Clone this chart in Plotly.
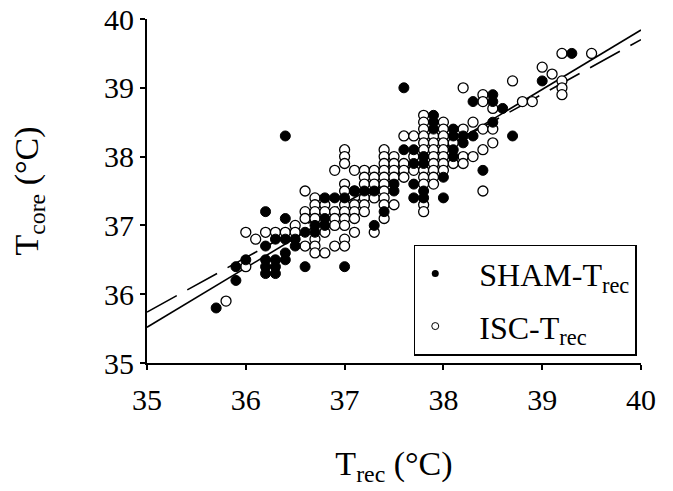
import plotly.graph_objects as go

# SHAM-Trec (filled) readings
sham_x = [35.7, 35.9, 35.9, 36.0, 36.2, 36.2, 36.2, 36.2, 36.2, 36.3, 36.3, 36.3, 36.3,
          36.4, 36.4, 36.4, 36.4, 36.4, 36.5, 36.5, 36.6, 36.6, 36.7, 36.7, 36.8, 36.8,
          36.8, 36.9, 37.0, 37.0, 37.1, 37.2, 37.3, 37.3, 37.4, 37.5, 37.5, 37.6, 37.6,
          37.7, 37.7, 37.7, 37.7, 37.8, 37.8, 37.8, 37.8, 37.9, 37.9, 37.9, 38.0, 38.0,
          38.1, 38.1, 38.1, 38.1, 38.2, 38.2, 38.3, 38.3, 38.4, 38.5, 38.5, 38.5, 38.6,
          38.7, 39.0, 39.3]
sham_y = [35.8, 36.2, 36.4, 36.5, 37.2, 36.7, 36.5, 36.4, 36.3, 36.8, 36.5, 36.4, 36.3,
          38.3, 37.1, 36.8, 36.6, 36.5, 36.8, 36.7, 36.9, 36.4, 37.0, 36.9, 37.4, 37.1,
          37.0, 37.4, 37.4, 36.4, 37.5, 37.5, 37.5, 37.0, 37.2, 37.6, 37.5, 39.0, 38.1,
          38.1, 37.9, 37.6, 37.4, 38.0, 37.9, 37.5, 37.4, 38.6, 38.5, 38.4, 37.7, 37.4,
          38.4, 38.3, 38.1, 38.0, 38.3, 38.2, 38.8, 38.3, 37.8, 38.9, 38.8, 38.5, 38.7,
          38.3, 39.1, 39.5]

# ISC-Trec (open) readings
isc_x = [35.8, 36.0, 36.0, 36.1, 36.2, 36.3, 36.4, 36.5, 36.5,
         36.6, 36.6, 36.6, 36.6,
         36.7, 36.7, 36.7, 36.7, 36.7, 36.7, 36.7,
         36.8, 36.8, 36.8, 36.8,
         36.9, 36.9, 36.9, 36.9, 36.9,
         37.0, 37.0, 37.0, 37.0, 37.0, 37.0, 37.0, 37.0, 37.0, 37.0, 37.0,
         37.1, 37.1, 37.1, 37.1, 37.1, 37.1,
         37.2, 37.2, 37.2, 37.2, 37.2, 37.2,
         37.3, 37.3, 37.3, 37.3, 37.3,
         37.4, 37.4, 37.4, 37.4, 37.4, 37.4, 37.4, 37.4, 37.4, 37.4,
         37.5, 37.5, 37.5, 37.5, 37.5,
         37.6, 37.6, 37.6, 37.6,
         37.7, 37.7, 37.7,
         37.8, 37.8, 37.8, 37.8, 37.8, 37.8, 37.8, 37.8, 37.8, 37.8, 37.8,
         37.9, 37.9, 37.9, 37.9, 37.9, 37.9, 37.9, 37.9,
         38.0, 38.0, 38.0, 38.0, 38.0, 38.0, 38.0, 38.0,
         38.1, 38.1,
         38.2, 38.2, 38.2, 38.2,
         38.3, 38.3,
         38.4, 38.4, 38.4, 38.4, 38.4,
         38.5, 38.5, 38.5,
         38.7, 38.8, 38.9, 39.0, 39.1,
         39.2, 39.2, 39.2, 39.2, 39.5]
isc_y = [35.9, 36.4, 36.9, 36.8, 36.9, 36.9, 36.9, 37.0, 36.9,
         37.5, 37.2, 37.1, 36.7,
         37.4, 37.3, 37.2, 37.1, 36.8, 36.7, 36.6,
         37.3, 37.2, 36.9, 36.6,
         37.8, 37.2, 37.1, 37.0, 36.7,
         38.1, 38.0, 37.9, 37.6, 37.5, 37.3, 37.2, 37.1, 37.0, 36.8, 36.7,
         37.8, 37.5, 37.3, 37.2, 37.1, 36.9,
         37.8, 37.7, 37.6, 37.4, 37.3, 37.2,
         37.8, 37.7, 37.6, 37.4, 36.9,
         38.1, 38.0, 37.9, 37.8, 37.7, 37.6, 37.5, 37.4, 37.3, 37.1,
         38.0, 37.9, 37.8, 37.7, 37.3,
         38.3, 37.9, 37.8, 37.7,
         38.3, 38.0, 37.8,
         38.6, 38.5, 38.4, 38.3, 38.2, 38.1, 37.8, 37.7, 37.6, 37.3, 37.2,
         38.3, 38.2, 38.1, 38.0, 37.9, 37.8, 37.7, 37.6,
         38.5, 38.4, 38.3, 38.2, 38.1, 38.0, 37.9, 37.8,
         38.2, 37.9,
         39.0, 38.4, 38.0, 37.9,
         38.5, 38.0,
         38.9, 38.8, 38.4, 38.1, 37.5,
         38.7, 38.4, 38.2,
         39.1, 38.8, 38.8, 39.3, 39.2,
         39.5, 39.1, 39.0, 38.9, 39.5]

# regression lines (end points)
fit_x = [35, 40]
fit_solid = [35.52, 39.84]
fit_dashed = [35.74, 39.70]

ticks = [35, 36, 37, 38, 39, 40]

FONT = "Liberation Serif, Times New Roman, serif"

fig = go.Figure()
fig.add_trace(go.Scatter(x=fit_x, y=fit_solid, mode="lines", showlegend=False,
                         line=dict(color="black", width=1.6)))
fig.add_trace(go.Scatter(x=fit_x, y=fit_dashed, mode="lines", showlegend=False,
                         line=dict(color="black", width=1.6, dash="34px,12px")))
fig.add_trace(go.Scatter(x=isc_x, y=isc_y, mode="markers", showlegend=False,
                         marker=dict(size=10, color="white", line=dict(color="black", width=1.3))))
fig.add_trace(go.Scatter(x=sham_x, y=sham_y, mode="markers", showlegend=False,
                         marker=dict(size=10, color="black", line=dict(color="black", width=1))))

# legend entries with small symbols
fig.add_trace(go.Scatter(x=[None], y=[None], mode="markers", legendgroup="a",
                         name="\u00a0\u00a0\u00a0SHAM-T<sub>rec</sub>",
                         marker=dict(size=7, color="black")))
fig.add_trace(go.Scatter(x=[None], y=[None], mode="markers", legendgroup="b",
                         name="\u00a0\u00a0\u00a0ISC-T<sub>rec</sub>",
                         marker=dict(size=7, color="white", line=dict(color="black", width=1))))

axis_common = dict(
    range=[35, 40], tickvals=ticks, ticks="outside", ticklen=5, tickwidth=2,
    tickcolor="black", showline=True, linecolor="black", linewidth=2,
    showgrid=False, zeroline=False, mirror=False, automargin=False,
    ticklabeloverflow="allow",
    tickfont=dict(family=FONT, size=30, color="black"),
)
fig.update_xaxes(**axis_common, ticklabelstandoff=4,
                 title=dict(text="T<sub>rec</sub> (°C)", standoff=36,
                            font=dict(family=FONT, size=34, color="black")))
fig.update_yaxes(**axis_common, ticklabelstandoff=0,
                 title=dict(text="T<sub>core</sub> (°C)", standoff=60,
                            font=dict(family=FONT, size=34, color="black")))

# page body adds an 8px offset, so the figure is sized to fit the window
fig.update_layout(
    width=665, height=483,
    margin=dict(l=139, r=32, t=11, b=128),
    paper_bgcolor="white", plot_bgcolor="white",
    font=dict(family=FONT, color="black"),
    legend=dict(x=0.54, y=0.344, xanchor="left", yanchor="top",
                bgcolor="white", bordercolor="black", borderwidth=1.5,
                font=dict(family=FONT, size=32, color="black"),
                traceorder="grouped", tracegroupgap=8),
)

fig.write_html("out.html")
